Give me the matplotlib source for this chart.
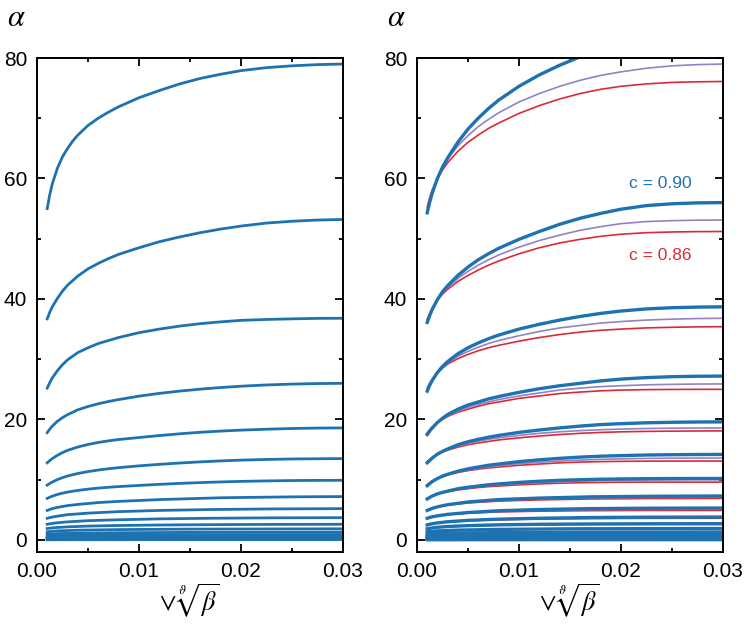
import matplotlib
matplotlib.use("Agg")
import matplotlib.pyplot as plt
from matplotlib.ticker import MultipleLocator

plt.rcParams['font.family'] = ['Liberation Sans', 'DejaVu Sans']
plt.rcParams['mathtext.fontset'] = 'stix'

# x grids (sqrt(beta) axis)
x_top = [0.001, 0.00125, 0.0015, 0.002, 0.0025, 0.003, 0.0035, 0.004, 0.005, 0.006, 0.007,
         0.008, 0.01, 0.012, 0.014, 0.016, 0.018, 0.02, 0.0225, 0.025, 0.0275, 0.03]
x_full = [0.001, 0.00125, 0.0015, 0.002, 0.0025, 0.003, 0.004, 0.005, 0.006, 0.007,
          0.008, 0.01, 0.012, 0.014, 0.016, 0.018, 0.02, 0.0225, 0.025, 0.0275, 0.03]
x_mid = [0.001, 0.0015, 0.002, 0.003, 0.005, 0.008, 0.012, 0.017, 0.023, 0.03]
x_short = [0.001, 0.002, 0.004, 0.008, 0.015, 0.03]

# left panel, top curve (x_top)
left_top = [55.0, 57.3, 59.1, 61.7, 63.6, 65.0, 66.2, 67.2, 68.8, 70.0, 71.0, 71.9,
            73.4, 74.6, 75.7, 76.6, 77.3, 77.9, 78.4, 78.7, 78.9, 79.0]
# left panel, big curves (x_full)
left_curves = [
    [36.7, 37.8, 38.7, 40.1, 41.3, 42.3, 43.8, 45.0, 45.9, 46.7, 47.4, 48.5, 49.5, 50.3, 51.0, 51.6, 52.1, 52.6, 52.9, 53.1, 53.2],
    [25.2, 26.1, 26.9, 28.1, 29.1, 29.9, 31.1, 31.9, 32.6, 33.1, 33.6, 34.4, 35.0, 35.5, 35.9, 36.2, 36.45, 36.6, 36.7, 36.78, 36.8],
    [17.8, 18.4, 18.9, 19.7, 20.3, 20.8, 21.6, 22.15, 22.6, 22.98, 23.3, 23.87, 24.33, 24.71, 25.03, 25.3, 25.52, 25.73, 25.87, 25.96, 26.0],
    [12.8, 13.17, 13.5, 14.05, 14.5, 14.87, 15.43, 15.85, 16.18, 16.45, 16.67, 17.0, 17.33, 17.62, 17.87, 18.07, 18.23, 18.38, 18.5, 18.57, 18.6],
    [9.1, 9.38, 9.62, 10.02, 10.35, 10.62, 11.03, 11.35, 11.6, 11.82, 12.0, 12.3, 12.55, 12.77, 12.96, 13.12, 13.25, 13.36, 13.44, 13.48, 13.5],
    [6.9, 7.1, 7.27, 7.55, 7.77, 7.95, 8.22, 8.43, 8.6, 8.74, 8.86, 9.05, 9.23, 9.39, 9.52, 9.63, 9.72, 9.8, 9.86, 9.89, 9.9],
    [4.9, 5.05, 5.2, 5.4, 5.55, 5.7, 5.9, 6.05, 6.2, 6.3, 6.4, 6.55, 6.7, 6.8, 6.9, 7.0, 7.05, 7.1, 7.15, 7.18, 7.2],
]
# left panel, medium curves (x_mid)
left_mid = [
    [3.6, 3.8, 3.95, 4.2, 4.45, 4.7, 4.9, 5.05, 5.15, 5.2],
    [2.6, 2.75, 2.85, 3.0, 3.2, 3.35, 3.5, 3.6, 3.67, 3.7],
    [1.9, 2.0, 2.07, 2.17, 2.3, 2.4, 2.48, 2.54, 2.58, 2.6],
]
# left panel, small curves (x_short)
left_small = [
    [1.35, 1.5, 1.62, 1.72, 1.8, 1.85],
    [0.95, 1.05, 1.13, 1.2, 1.26, 1.3],
    [0.65, 0.72, 0.78, 0.83, 0.87, 0.9],
    [0.45, 0.5, 0.54, 0.57, 0.6, 0.62],
    [0.3, 0.33, 0.36, 0.38, 0.4, 0.42],
    [0.18, 0.2, 0.22, 0.23, 0.25, 0.26],
    [0.1, 0.11, 0.12, 0.13, 0.14, 0.15],
    [0.03, 0.035, 0.04, 0.045, 0.05, 0.05],
]

# right panel: c = 0.90 (blue), middle (purple), c = 0.86 (red), on x_full
right_blue = [
    [54.3, 56.1, 57.6, 60.0, 61.9, 63.4, 66.0, 68.2, 70.0, 71.6, 73.0, 75.3, 77.2, 78.8, 80.2, 81.3, 82.2, 83.0, 83.5, 83.8, 84.0],
    [36.1, 37.3, 38.3, 39.9, 41.2, 42.2, 43.9, 45.3, 46.5, 47.5, 48.4, 49.9, 51.2, 52.4, 53.4, 54.2, 54.9, 55.5, 55.8, 55.95, 56.0],
    [24.7, 25.7, 26.5, 27.8, 28.8, 29.6, 30.9, 31.9, 32.7, 33.4, 34.0, 35.0, 35.8, 36.5, 37.1, 37.6, 38.0, 38.35, 38.55, 38.65, 38.7],
    [17.5, 18.1, 18.6, 19.5, 20.2, 20.8, 21.7, 22.4, 22.9, 23.4, 23.8, 24.5, 25.1, 25.6, 26.0, 26.4, 26.7, 26.95, 27.1, 27.17, 27.2],
    [12.8, 13.2, 13.6, 14.25, 14.7, 15.1, 15.8, 16.3, 16.7, 17.05, 17.35, 17.85, 18.25, 18.6, 18.9, 19.15, 19.3, 19.45, 19.53, 19.58, 19.6],
    [9.0, 9.35, 9.7, 10.2, 10.6, 10.9, 11.4, 11.8, 12.1, 12.4, 12.6, 13.0, 13.3, 13.55, 13.75, 13.9, 14.0, 14.1, 14.15, 14.18, 14.2],
    [6.8, 7.05, 7.3, 7.65, 7.9, 8.1, 8.5, 8.75, 8.95, 9.15, 9.3, 9.55, 9.75, 9.9, 10.0, 10.08, 10.13, 10.17, 10.19, 10.2, 10.2],
]
right_purple = [
    [54.8, 56.5, 57.9, 60.1, 61.8, 63.2, 65.4, 67.1, 68.6, 69.8, 70.9, 72.7, 74.1, 75.3, 76.3, 77.1, 77.7, 78.3, 78.7, 78.9, 79.0],
    [36.4, 37.5, 38.4, 39.9, 41.0, 41.9, 43.4, 44.6, 45.6, 46.5, 47.3, 48.6, 49.7, 50.6, 51.4, 52.0, 52.5, 52.85, 53.0, 53.08, 53.1],
    [25.0, 25.9, 26.6, 27.7, 28.6, 29.4, 30.5, 31.3, 32.0, 32.6, 33.1, 33.9, 34.6, 35.2, 35.6, 36.0, 36.25, 36.5, 36.65, 36.75, 36.8],
    [17.7, 18.2, 18.7, 19.5, 20.1, 20.6, 21.4, 22.0, 22.5, 22.9, 23.3, 23.9, 24.4, 24.9, 25.2, 25.45, 25.6, 25.75, 25.83, 25.88, 25.9],
    [12.9, 13.3, 13.6, 14.2, 14.65, 15.0, 15.6, 16.0, 16.4, 16.7, 16.95, 17.35, 17.7, 17.95, 18.15, 18.3, 18.4, 18.5, 18.55, 18.58, 18.6],
    [9.1, 9.4, 9.7, 10.2, 10.55, 10.8, 11.3, 11.6, 11.9, 12.15, 12.35, 12.65, 12.9, 13.1, 13.25, 13.38, 13.46, 13.53, 13.57, 13.59, 13.6],
    [6.85, 7.08, 7.3, 7.63, 7.88, 8.05, 8.4, 8.63, 8.83, 9.0, 9.13, 9.35, 9.53, 9.66, 9.76, 9.84, 9.9, 9.95, 9.98, 10.0, 10.0],
]
right_red = [
    [55.3, 56.9, 58.1, 60.0, 61.4, 62.6, 64.5, 66.0, 67.2, 68.3, 69.2, 70.8, 72.1, 73.2, 74.1, 74.8, 75.3, 75.7, 75.95, 76.05, 76.1],
    [36.6, 37.6, 38.5, 39.8, 40.8, 41.6, 42.9, 43.9, 44.8, 45.6, 46.3, 47.5, 48.5, 49.3, 49.9, 50.4, 50.75, 51.0, 51.12, 51.18, 51.2],
    [25.2, 26.0, 26.7, 27.7, 28.5, 29.2, 30.1, 30.8, 31.4, 31.9, 32.3, 33.0, 33.6, 34.1, 34.5, 34.8, 35.0, 35.2, 35.3, 35.37, 35.4],
    [17.8, 18.3, 18.7, 19.5, 20.0, 20.5, 21.2, 21.7, 22.2, 22.6, 22.9, 23.5, 23.9, 24.3, 24.55, 24.75, 24.88, 24.95, 24.98, 25.0, 25.0],
    [13.0, 13.35, 13.7, 14.2, 14.6, 14.9, 15.4, 15.8, 16.1, 16.35, 16.6, 16.95, 17.25, 17.5, 17.7, 17.85, 17.95, 18.02, 18.06, 18.09, 18.1],
    [9.2, 9.5, 9.8, 10.2, 10.5, 10.8, 11.2, 11.5, 11.75, 11.95, 12.1, 12.4, 12.6, 12.8, 12.92, 13.0, 13.05, 13.08, 13.1, 13.1, 13.1],
    [6.9, 7.1, 7.3, 7.6, 7.85, 8.0, 8.3, 8.5, 8.7, 8.85, 8.95, 9.15, 9.3, 9.42, 9.5, 9.55, 9.58, 9.6, 9.6, 9.6, 9.6],
]
# right panel medium curves (x_mid)
right_mid_blue = [
    [4.9, 5.25, 5.5, 5.85, 6.3, 6.7, 6.95, 7.15, 7.25, 7.3],
    [3.6, 3.85, 4.0, 4.25, 4.55, 4.85, 5.05, 5.2, 5.27, 5.3],
    [2.5, 2.7, 2.83, 3.02, 3.25, 3.45, 3.6, 3.72, 3.78, 3.8],
    [1.85, 2.0, 2.1, 2.23, 2.38, 2.51, 2.6, 2.66, 2.69, 2.7],
]
right_mid_purple = [
    [4.95, 5.28, 5.5, 5.82, 6.22, 6.58, 6.82, 6.98, 7.06, 7.1],
    [3.6, 3.85, 4.0, 4.23, 4.5, 4.75, 4.92, 5.03, 5.08, 5.1],
]
right_mid_red = [
    [5.0, 5.3, 5.5, 5.8, 6.15, 6.45, 6.65, 6.8, 6.87, 6.9],
    [3.65, 3.88, 4.02, 4.22, 4.45, 4.65, 4.78, 4.86, 4.9, 4.9],
    [2.55, 2.72, 2.84, 3.0, 3.2, 3.35, 3.47, 3.55, 3.59, 3.6],
    [1.9, 2.02, 2.1, 2.22, 2.35, 2.45, 2.52, 2.57, 2.59, 2.6],
]
# right panel small curves (x_short)
right_small_blue = [
    [1.35, 1.5, 1.63, 1.75, 1.85, 1.9],
    [0.95, 1.05, 1.14, 1.22, 1.28, 1.32],
    [0.65, 0.72, 0.78, 0.83, 0.88, 0.91],
    [0.45, 0.5, 0.54, 0.57, 0.6, 0.62],
    [0.3, 0.33, 0.36, 0.38, 0.4, 0.42],
    [0.18, 0.2, 0.22, 0.23, 0.25, 0.26],
    [0.1, 0.11, 0.12, 0.13, 0.14, 0.15],
    [0.03, 0.035, 0.04, 0.045, 0.05, 0.05],
]

blue = '#1f72b0'
purple = '#9282c4'
red = '#dc2a35'

fig = plt.figure(figsize=(7.46, 6.25), dpi=100)
ax1 = fig.add_axes([0.0496, 0.1168, 0.410, 0.7904])
ax2 = fig.add_axes([0.559, 0.1168, 0.410, 0.7904])

ax1.plot(x_top, left_top, color=blue, lw=2.0)
for y in left_curves:
    ax1.plot(x_full, y, color=blue, lw=2.0)
for y in left_mid:
    ax1.plot(x_mid, y, color=blue, lw=2.0)
for y in left_small:
    ax1.plot(x_short, y, color=blue, lw=2.0)

for y in right_red:
    ax2.plot(x_full, y, color=red, lw=1.2)
for y in right_mid_red:
    ax2.plot(x_mid, y, color=red, lw=1.2)
for y in right_purple:
    ax2.plot(x_full, y, color=purple, lw=1.2)
for y in right_mid_purple:
    ax2.plot(x_mid, y, color=purple, lw=1.2)
for y in right_blue:
    ax2.plot(x_full, y, color=blue, lw=2.4)
for y in right_mid_blue:
    ax2.plot(x_mid, y, color=blue, lw=2.4)
for y in right_small_blue:
    ax2.plot(x_short, y, color=blue, lw=2.4)

ax2.text(0.0239, 59.2, 'c = 0.90', color=blue, fontsize=12.5, ha='center', va='center')
ax2.text(0.0239, 47.2, 'c = 0.86', color=red, fontsize=12.5, ha='center', va='center')

for ax in (ax1, ax2):
    ax.set_xlim(0, 0.03)
    ax.set_ylim(-2, 80)
    ax.xaxis.set_minor_locator(MultipleLocator(0.005))
    ax.yaxis.set_major_locator(MultipleLocator(20))
    ax.yaxis.set_minor_locator(MultipleLocator(10))
    ax.set_xticks([0, 0.01, 0.02, 0.03])
    ax.set_xticklabels(['0.00', '0.01', '0.02', '0.03'])
    ax.tick_params(which='both', direction='in', top=True, right=True,
                   labelsize=15, width=1.3, pad=7)
    ax.tick_params(which='major', length=6)
    ax.tick_params(which='minor', length=3)
    for s in ax.spines.values():
        s.set_linewidth(1.4)
    ax.set_xlabel(r'$\vee\,\sqrt[\vartheta]{\beta}$', fontsize=19, labelpad=1)

fig.text(0.022, 0.972, r'$\alpha$', fontsize=22, ha='center', va='center')
fig.text(0.531, 0.972, r'$\alpha$', fontsize=22, ha='center', va='center')

fig.savefig('out.png', dpi=100)
